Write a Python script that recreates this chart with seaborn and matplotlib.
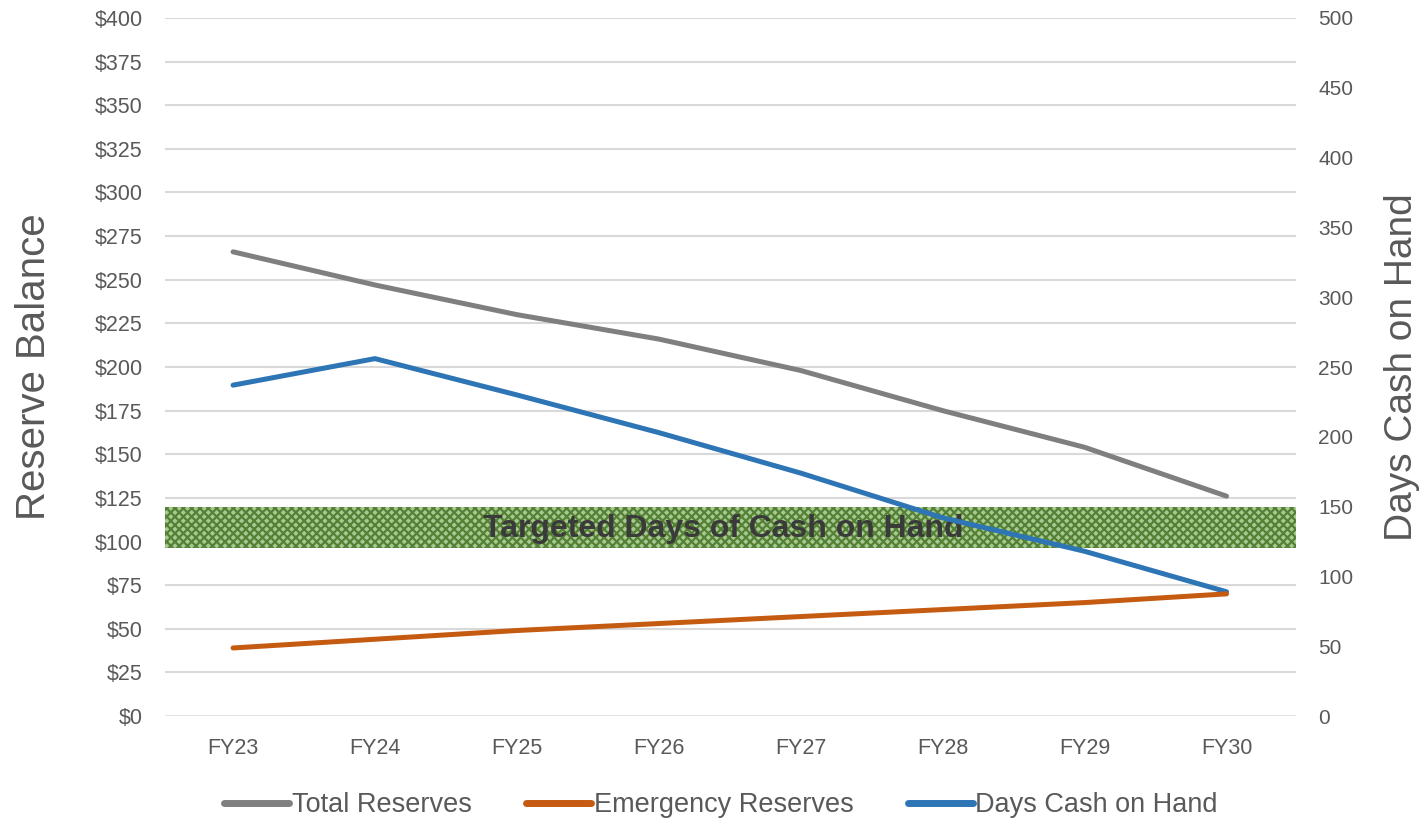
import matplotlib
matplotlib.use("Agg")
import matplotlib.pyplot as plt
import matplotlib.ticker as mticker
from matplotlib.lines import Line2D
import pandas as pd
import seaborn as sns

YEARS = ["FY23", "FY24", "FY25", "FY26", "FY27", "FY28", "FY29", "FY30"]
TOTAL_RESERVES = [266, 247, 230, 216, 198, 175, 154, 126]
EMERGENCY_RESERVES = [39, 44, 49, 53, 57, 61, 65, 70]
DAYS_CASH = [237, 256, 230, 203, 174, 142, 118, 89]
TARGET_DAYS = (120, 150)

C_TOTAL = "#7f7f7f"
C_EMERG = "#c55a11"
C_DAYS = "#2e75b6"
TXT = "#595959"

sns.set_style("white")
plt.rcParams["font.family"] = ["Liberation Sans", "DejaVu Sans"]
plt.rcParams["hatch.linewidth"] = 1.6

df = pd.DataFrame({"year": YEARS, "total": TOTAL_RESERVES,
                   "emerg": EMERGENCY_RESERVES, "days": DAYS_CASH})

fig = plt.figure(figsize=(14.28, 8.25), dpi=100)
ax = fig.add_axes([0.1155, 0.1321, 0.7921, 0.8461])
ax2 = ax.twinx()

# target band lives on the days axis
ax2.axhspan(TARGET_DAYS[0], TARGET_DAYS[1], facecolor="#a9c892",
            edgecolor="#548235", hatch="xxxx", linewidth=0, zorder=1)
ax2.text(3.45, sum(TARGET_DAYS) / 2 - 1, "Targeted Days of Cash on Hand",
         ha="center", va="center", fontsize=23, fontweight="bold",
         color="#3a3a3a", zorder=2)

sns.lineplot(data=df, x="year", y="total", ax=ax, color=C_TOTAL,
             linewidth=3.6, sort=False, zorder=3)
sns.lineplot(data=df, x="year", y="emerg", ax=ax, color=C_EMERG,
             linewidth=3.6, sort=False, zorder=3)
sns.lineplot(data=df, x="year", y="days", ax=ax2, color=C_DAYS,
             linewidth=3.6, sort=False, zorder=4)

ax.set_zorder(ax2.get_zorder() + 1)
ax.patch.set_visible(False)
ax2.patch.set_visible(True)
ax2.patch.set_facecolor("white")

ax.set_xlim(-0.48, 7.49)
ax.set_ylim(0, 400)
ax2.set_ylim(0, 500)
ax.yaxis.set_major_locator(mticker.MultipleLocator(25))
ax2.yaxis.set_major_locator(mticker.MultipleLocator(50))
ax.yaxis.set_major_formatter(mticker.FuncFormatter(lambda v, _: f"${v:.0f}"))

# gridlines drawn on the back axis so they sit under the band
for v in range(25, 401, 25):
    ax2.axhline(v * 500 / 400, color="#d9d9d9", linewidth=1.5, zorder=0)
ax2.axhline(0, color="#d9d9d9", linewidth=1.8, zorder=0)

for s in list(ax.spines.values()) + list(ax2.spines.values()):
    s.set_visible(False)
ax.tick_params(axis="both", length=0, colors=TXT, labelsize=15.5)
ax2.tick_params(axis="y", length=0, colors=TXT, labelsize=15, pad=16)
ax.tick_params(axis="y", pad=16)
ax.tick_params(axis="x", pad=16)

ax.set_xlabel("")
ax.set_ylabel("Reserve Balance", fontsize=29, color=TXT, labelpad=30)
ax2.set_ylabel("Days Cash on Hand", fontsize=28, color=TXT, labelpad=22)

handles = [Line2D([], [], color=C_TOTAL, linewidth=5),
           Line2D([], [], color=C_EMERG, linewidth=5),
           Line2D([], [], color=C_DAYS, linewidth=5)]
labels = ["Total Reserves", "Emergency Reserves", "Days Cash on Hand"]
leg = fig.legend(handles, labels, loc="center", bbox_to_anchor=(0.505, 0.024),
                 ncol=3, frameon=False, handlelength=2.4, handletextpad=0.1,
                 columnspacing=2.0, prop={"size": 19.5})
for t in leg.get_texts():
    t.set_color(TXT)

fig.savefig("out.png", dpi=100, facecolor="white")
